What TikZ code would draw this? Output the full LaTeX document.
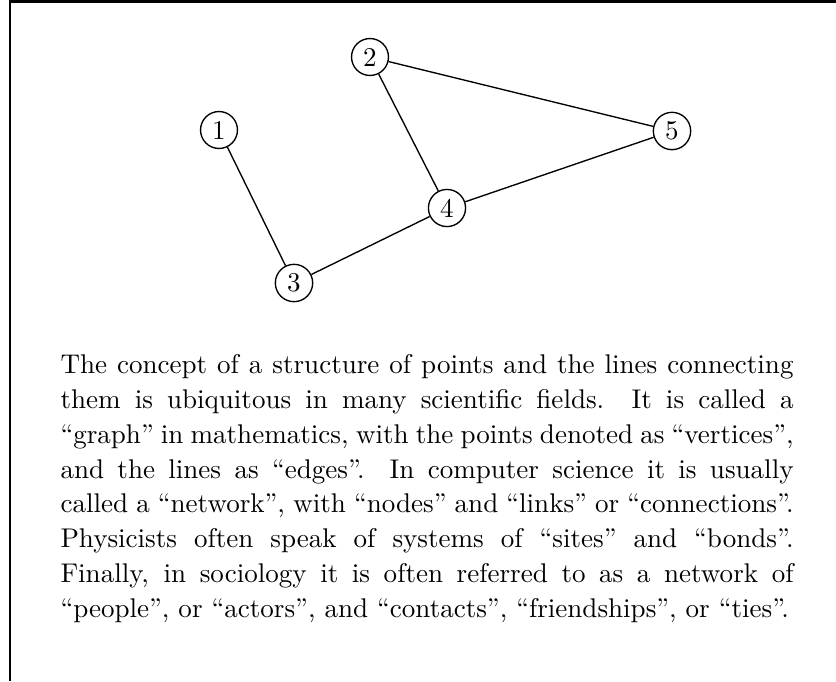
\documentclass[tikz,border=0pt]{standalone}
\usepackage{tikz}
\usetikzlibrary{positioning}

\begin{document}
\begin{tikzpicture}[
        x=0.3697pt, y=-0.3697pt,
        vertex/.style = {draw, circle, inner sep=1.9pt, line width=0.5pt},
        link/.style   = {line width=0.5pt},
        frame/.style  = {line width=1.1pt},
        para/.style   = {anchor=north west, inner sep=0pt, text width=271pt, align=justify,
                         font=\fontsize{10}{12.86}\selectfont},
    ]
        \useasboundingbox (0,0) rectangle (836,681);
        % frame
        \coordinate (tl) at (10,1.5);
        \coordinate (tr) at (836,1.5);
        \coordinate (bl) at (10,681);
        \draw[frame] (bl) -- (tl) -- (tr);
        % graph
        \node[vertex] (v1) at (219,130) {1};
        \node[vertex] (v2) at (370,57)  {2};
        \node[vertex] (v3) at (294,283) {3};
        \node[vertex] (v4) at (447,208) {4};
        \node[vertex] (v5) at (672,131) {5};
        \draw[link] (v1) -- (v3);
        \draw[link] (v3) -- (v4);
        \draw[link] (v2) -- (v4);
        \draw[link] (v2) -- (v5);
        \draw[link] (v4) -- (v5);
        % text
        \node[para] (txt) at (60,354.2) {The concept of a structure of points and the lines connecting\linebreak
            them is ubiquitous in many scientific fields. It is called a\linebreak
            ``graph'' in mathematics, with the points denoted as ``vertices'',\linebreak
            and the lines as ``edges''. In computer science it is usually\linebreak
            called a ``network'', with ``nodes'' and ``links'' or ``connections''.\linebreak
            Physicists often speak of systems of ``sites'' and ``bonds''.\linebreak
            Finally, in sociology it is often referred to as a network of\linebreak
            ``people'', or ``actors'', and ``contacts'', ``friendships'', or ``ties''.};
    \end{tikzpicture}
\end{document}
